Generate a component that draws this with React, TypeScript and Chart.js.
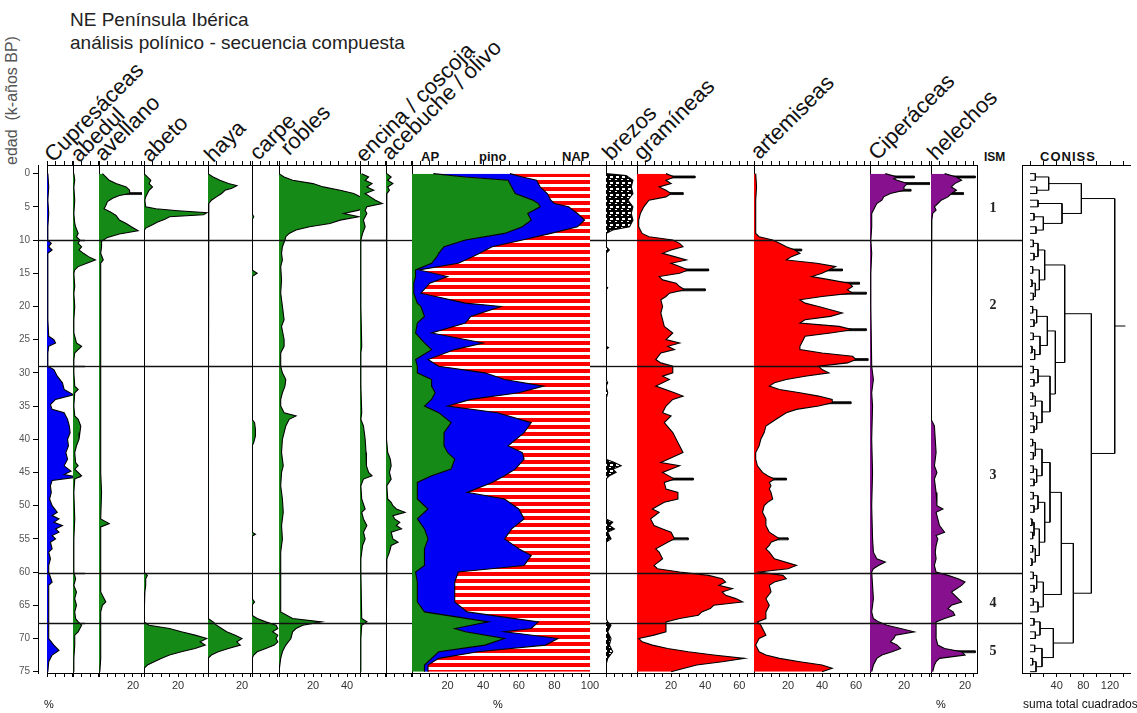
import React, { useEffect, useRef } from 'react';
import { Chart, registerables } from 'chart.js';

Chart.register(...registerables);
Chart.defaults.font.family = '"Liberation Sans", Arial, sans-serif';

// ---------------- DATA ----------------
const ZONE_AGES = [10, 29, 60.2, 67.7];
const ISM_ZONES = ['1', '2', '3', '4', '5'];
const ISM_ZONE_AGES = [5.2, 19.8, 45.4, 64.7, 71.9];
const AGE_MIN = -1.3;
const AGE_MAX = 75.2;

const CUPRESACEAS_AGE = [0, 2, 4, 6, 8, 10, 10.5, 11, 11.5, 12, 14, 18, 22, 24.5, 25, 25.5, 26, 27, 29, 29.5, 30.5, 31.5, 32.5, 33.3, 34, 34.8, 35.5, 36, 37, 38, 39, 40, 41, 42, 43, 44, 44.8, 45.3, 45.7, 46.2, 47, 48, 49, 50, 51, 51.5, 52, 52.5, 53, 53.5, 54, 54.5, 55, 55.5, 56.5, 57, 58, 59, 60, 61.5, 62, 63, 66, 68, 70, 71, 71.8, 72.5, 73.5, 75];
const CUPRESACEAS_PCT = [0.5, 1, 0.5, 1, 0.5, 0.5, 2.5, 1, 3, 0.5, 0.5, 0.5, 0.5, 1, 4, 5, 1, 0.5, 0.5, 4, 6, 9, 10, 15.5, 5, 2, 3, 10, 12, 13, 13.5, 12, 12.5, 11, 12, 10, 14, 10, 18, 3, 2, 2.5, 1.5, 3, 6, 3, 7, 4, 9, 5, 7, 3, 5, 2, 3, 1, 2, 1, 1, 3, 1, 1, 1, 1, 1, 4, 7, 3, 1, 0.5];

const ABEDUL_AGE = [0, 1, 2, 4, 6, 7.5, 8, 9, 9.5, 10, 10.5, 11, 11.5, 12, 12.5, 13, 13.5, 14, 14.5, 15, 17, 18, 20, 22, 24, 25.5, 26, 26.5, 27, 28, 30, 32, 32.5, 33, 35, 36.5, 37, 38, 39, 40, 41, 42, 43.5, 44, 44.5, 45.5, 46, 48, 52, 55, 60, 61, 62, 63, 64, 65, 66, 67, 67.5, 68, 68.5, 69, 69.5, 71, 73, 75];
const ABEDUL_PCT = [0.5, 1, 0.5, 1, 0.5, 1, 1.5, 3, 2, 4, 3, 5, 3.5, 6, 9, 13, 8, 3, 1, 0.5, 1, 0.5, 1, 0.5, 0.5, 2, 5, 3, 1, 0.5, 0.5, 1, 3, 1, 0.5, 1, 3, 4.5, 4, 3.5, 2, 1, 1.5, 3, 1, 5, 1, 0.5, 1, 0.5, 0.5, 1.5, 0.5, 2, 1, 2, 1, 1.5, 3, 5, 4, 3, 1, 1, 0.5, 0.5];

const AVELLANO_AGE = [0, 0.5, 1, 1.5, 2, 2.5, 3, 3.3, 3.7, 4.2, 4.8, 5.3, 5.8, 6.3, 7, 7.5, 8, 8.6, 9.1, 9.6, 10.2, 11, 12, 13, 13.5, 15, 20, 25, 30, 35, 40, 45, 48, 52, 52.7, 53.2, 55, 58, 60, 63, 64.5, 65, 66, 70, 73, 75];
const AVELLANO_PCT = [2, 4, 6, 10, 16, 18, 18, 12, 8, 5, 4, 3, 7, 10, 12, 16, 19, 23, 12, 5, 1.5, 1.5, 1, 2.5, 1, 1, 1, 1, 1, 1, 1, 1, 1.5, 1, 6, 1, 1, 1, 1, 1, 4, 2, 1, 1, 1, 0.5];
const AVELLANO_BLACK_AGE = [2.85, 2.85, 3.15, 3.15];
const AVELLANO_BLACK_PCT = [0, 25, 25, 0];

const ABETO_AGE = [0, 0.5, 1, 1.5, 2, 2.5, 3, 3.5, 4, 5, 5.3, 5.6, 5.9, 6.2, 6.5, 6.9, 7.3, 7.7, 8.2, 8.6, 60, 60.5, 61, 62, 63, 64, 67.5, 68, 68.5, 69, 69.5, 70, 70.5, 71, 71.5, 72, 72.5, 73, 73.5, 74, 74.5, 75];
const ABETO_PCT = [0, 2, 4, 3, 5, 3, 2, 1, 0.5, 1, 7, 20, 37, 35, 15, 12, 8, 5, 1, 0, 0, 2, 1, 1, 0.5, 0, 0, 3, 15, 22, 30, 37, 33, 36, 30, 22, 15, 10, 6, 2, 0, 0];

const HAYA_AGE = [0, 0.5, 1, 1.5, 1.8, 2.2, 2.5, 3, 3.5, 4, 4.5, 5, 67, 67.5, 68, 68.5, 69, 69.5, 70, 70.5, 71, 71.5, 72, 72.5, 73, 75];
const HAYA_PCT = [0, 3, 7, 12, 17, 14, 10, 8, 5, 2, 0.5, 0, 0, 3, 5, 8, 11, 16, 20, 17, 19, 12, 6, 2, 0, 0];

const CARPE_AGE = [0, 6, 6.5, 7, 14.5, 15, 15.5, 37, 37.5, 38.5, 39.5, 40.5, 41, 54, 54.3, 54.6, 64, 64.5, 65, 66.5, 67, 67.5, 68, 68.5, 69, 69.5, 70, 70.5, 71, 71.5, 72, 72.5, 73, 75];
const CARPE_PCT = [0, 0, 1, 0, 0, 3, 0, 0, 1.5, 2, 2, 1, 0, 0, 2, 0, 0, 1.5, 0, 0, 3, 8, 14, 15, 12, 15, 14, 15, 13, 8, 3, 1, 0, 0];

const ROBLES_AGE = [0, 0.5, 1, 1.5, 2, 2.5, 3, 3.5, 4, 4.5, 5, 5.5, 6, 6.5, 7, 7.5, 8, 8.5, 9, 9.5, 10, 11, 12, 13, 14, 16, 18, 20, 22, 23, 25, 26, 27, 29, 30, 31, 32, 33, 34, 35, 36, 36.5, 37, 38, 39, 40, 42, 44, 45, 47, 49, 51, 53, 55, 57, 60, 64, 66, 67, 67.5, 68, 68.5, 69, 70, 71, 72, 73, 74, 75];
const ROBLES_PCT = [0, 3, 8, 20, 26, 36, 44, 48, 54, 59, 50, 47, 38, 47, 36, 30, 18, 10, 6, 4, 3.5, 2, 1.5, 2, 1, 1.5, 1, 2, 3, 1.5, 3, 3, 1, 1, 2, 4, 3.5, 2, 1, 1, 3, 10, 6, 4, 3, 2, 1.5, 2.5, 1.5, 1, 2, 2.5, 1.5, 2, 1, 1, 1, 1, 8, 25, 14, 10, 8, 7, 4, 2, 1, 0.5, 0];

const ENCINA_AGE = [0, 0.5, 1, 1.5, 2, 2.5, 3, 3.5, 4, 4.5, 5, 5.5, 6, 7, 8, 9, 10, 12, 20, 26, 27, 32, 36, 37, 38, 40, 42, 43, 44, 45, 45.5, 46, 47, 49, 50.5, 51, 52, 53, 54, 55, 56, 57, 58, 60, 67, 67.5, 68, 70, 75];
const ENCINA_PCT = [1, 5, 3, 7, 4, 8, 3, 6, 9, 13, 4, 3, 4, 2, 3, 1.5, 0.5, 0.5, 0.5, 1, 0.5, 0.5, 1, 0.5, 2, 3, 3.5, 4, 3.5, 5, 7, 2, 0.5, 1, 3, 1, 2, 4, 2, 3, 1.5, 1, 0.5, 0.5, 1, 4, 1, 0.5, 0.5];

const ACEBUCHE_AGE = [0, 0.5, 1, 1.5, 2, 2.5, 3, 5, 8, 10, 38, 40, 42, 43, 44, 45, 46, 47, 49, 49.5, 50, 50.5, 51, 51.5, 52, 52.5, 53, 53.5, 54, 55, 55.5, 56, 57, 58, 60, 75];
const ACEBUCHE_PCT = [0.5, 3, 1, 4, 1, 2, 0.5, 0.5, 0.5, 0, 0, 0.5, 1, 2.5, 3, 2, 3, 0.5, 1, 3, 4, 6, 11, 4, 5, 8, 6, 9, 3, 4, 7, 3, 2, 0.5, 0, 0];

// AP diagram: non-pine trees (green) and total AP incl. pine (green + blue); NAP = rest to 100
const AP_AGE = [0, 0.5, 1, 2, 3, 4, 4.5, 5, 6, 7, 8, 9, 10, 11, 12, 12.5, 13.5, 14.5, 15.5, 16.5, 18, 19.5, 20, 21.5, 22.5, 24, 25.5, 26.5, 28, 29, 30, 31, 32, 33, 34, 35, 36, 37.5, 39, 41, 42, 43, 44.5, 45.5, 46.5, 48, 49, 50.5, 52, 53.5, 55, 56.5, 57.5, 59, 60, 61.5, 63, 64.5, 66, 67.5, 68.5, 69, 70, 71, 72, 73, 74, 75];
const AP_TREES = [12, 30, 54, 56, 58, 68, 71, 72, 65, 67, 62, 52, 30, 18, 15, 14, 11, 2, 2, 1, 1, 3, 5, 7, 3, 2, 7, 11, 2, 3, 3, 11, 11, 13, 11, 7, 15, 22, 18, 18, 20, 24, 22, 11, 3, 3, 3, 9, 3, 7, 9, 7, 7, 7, 2, 3, 3, 3, 7, 43, 24, 30, 52, 41, 15, 11, 7, 7];
const AP_TOTAL = [55, 62, 70, 72, 76, 78, 80, 88, 93, 97, 93, 78, 62, 45, 38, 34, 26, 4, 20, 10, 5, 30, 50, 33, 30, 11, 40, 24, 9, 15, 41, 52, 74, 60, 33, 20, 48, 67, 63, 54, 62, 63, 58, 52, 45, 31, 52, 60, 63, 56, 52, 60, 67, 63, 26, 24, 24, 24, 31, 71, 67, 52, 82, 75, 37, 15, 9, 9];

const BREZOS_AGE = [0, 0.3, 1, 2, 3, 4, 5, 6, 7, 8, 8.5, 9, 11, 11.5, 12, 17, 17.2, 17.5, 26, 26.2, 26.5, 31, 31.5, 32, 33, 34, 43, 43.5, 44, 44.5, 45, 45.5, 46, 52, 52.5, 53, 53.5, 54, 55, 55.5, 67, 67.5, 68, 69, 70, 71, 72, 73, 74, 75];
const BREZOS_PCT = [0, 12, 16, 15, 16, 13, 16, 15, 16, 14, 4, 0, 0, 2, 0, 0, 1, 0, 0, 1.5, 0, 0, 1, 0, 1, 0, 0, 5, 9, 4, 6, 2, 0, 0, 4, 2, 5, 1, 3, 0, 0, 1, 3, 1, 3, 2, 4, 1, 0, 0];

const GRAMINEAS_AGE = [0, 0.5, 1, 1.5, 2, 2.5, 3, 3.5, 4, 5, 6, 7, 8, 9, 9.5, 10, 10.5, 11, 11.5, 12, 12.5, 13, 13.5, 14, 14.5, 15, 15.5, 16, 16.5, 17, 17.5, 18, 18.5, 19, 20, 21, 22, 23, 24, 25, 25.5, 26, 26.5, 27, 28, 28.5, 29, 30, 30.5, 31, 32, 33, 33.5, 34, 35, 36, 36.5, 37.5, 39, 42, 43.5, 44, 45, 46, 46.5, 47.5, 48, 49, 49.5, 50.5, 51, 52, 53, 53.5, 54, 55, 55.5, 56.5, 57, 58, 59, 59.5, 60, 60.5, 61, 61.5, 62, 62.5, 63, 63.5, 64, 64.5, 65, 65.5, 66, 66.5, 67, 67.5, 68, 69, 69.5, 70, 70.5, 71, 71.5, 72, 72.5, 73, 73.5, 74, 75];
const GRAMINEAS_PCT = [17, 22, 17, 20, 13, 17, 20, 17, 7, 4, 2, 1, 1, 3, 7, 21, 25, 27, 20, 15, 22, 29, 20, 25, 30, 25, 13, 15, 23, 25, 28, 19, 17, 14, 15, 14, 15, 16, 21, 17, 25, 18, 22, 14, 11, 14, 21, 21, 15, 19, 11, 22, 27, 21, 17, 15, 20, 16, 21, 27, 14, 25, 15, 22, 16, 17, 24, 24, 16, 9, 13, 8, 10, 15, 20, 22, 18, 11, 13, 15, 10, 12, 25, 42, 50, 52, 48, 56, 50, 52, 58, 62, 45, 43, 38, 36, 25, 17, 17, 17, 10, 1, 3, 9, 18, 30, 45, 63, 50, 35, 20];
const GRAMINEAS_BLACK_AGE = [0.35, 0.35, 0.65, 0.65, 2.85, 2.85, 3.15, 3.15, 14.35, 14.35, 14.65, 14.65, 17.35, 17.35, 17.65, 17.65, 45.85, 45.85, 46.15, 46.15, 54.85, 54.85, 55.15, 55.15];
const GRAMINEAS_BLACK_PCT = [0, 34, 34, 0, 0, 27, 27, 0, 0, 42, 42, 0, 0, 40, 40, 0, 0, 33, 33, 0, 0, 30, 30, 0];

const ARTEMISEAS_AGE = [0, 2, 4, 6, 8, 9, 9.5, 10, 10.5, 11, 11.5, 12, 12.5, 13, 13.5, 14, 14.5, 15, 15.5, 16, 16.5, 17, 17.5, 18, 18.5, 19, 19.5, 20, 21, 21.5, 22, 22.5, 23, 23.5, 24, 24.5, 25, 26, 26.5, 27, 27.5, 28, 28.5, 29, 29.5, 30, 30.5, 31, 31.5, 32, 32.5, 33, 33.5, 34, 34.5, 35, 35.5, 36, 37, 38, 39, 40, 41, 42, 43, 44, 45, 45.5, 46, 46.5, 47, 47.5, 48, 49, 49.5, 50, 51, 52, 53, 54, 55, 55.5, 56, 56.5, 57, 58, 59, 59.5, 60, 60.5, 61, 61.5, 62, 63, 64, 65, 66, 67, 67.5, 68, 69, 69.5, 70, 71, 72, 72.5, 73, 73.5, 74, 74.5, 75];
const ARTEMISEAS_PCT = [1, 1.5, 1, 1, 1, 1, 3, 11, 15, 19, 24, 27, 22, 19, 37, 48, 44, 40, 34, 45, 56, 58, 55, 58, 40, 27, 30, 38, 52, 45, 30, 27, 50, 58, 45, 30, 29, 27, 27, 40, 58, 60, 55, 38, 40, 44, 30, 19, 12, 9, 15, 27, 38, 46, 46, 38, 25, 19, 13, 7, 6, 4, 3, 1, 1, 2, 5, 8, 12, 9, 10, 9, 10, 11, 8, 6, 5, 7, 7, 9, 15, 10, 9, 7, 9, 12, 25, 20, 3, 17, 19, 12, 9, 10, 7, 9, 7, 7, 2, 4, 6, 7, 3, 1, 3, 7, 15, 27, 40, 46, 40];
const ARTEMISEAS_BLACK_AGE = [11.35, 11.35, 11.65, 11.65, 14.35, 14.35, 14.65, 14.65, 16.35, 16.35, 16.65, 16.65, 17.85, 17.85, 18.15, 18.15, 23.35, 23.35, 23.65, 23.65, 27.85, 27.85, 28.15, 28.15, 34.35, 34.35, 34.65, 34.65, 45.85, 45.85, 46.15, 46.15, 54.85, 54.85, 55.15, 55.15];
const ARTEMISEAS_BLACK_PCT = [0, 28, 28, 0, 0, 52, 52, 0, 0, 62, 62, 0, 0, 66, 66, 0, 0, 66, 66, 0, 0, 67, 67, 0, 0, 57, 57, 0, 0, 19, 19, 0, 0, 20, 20, 0];

const CIPERACEAS_AGE = [0, 0.5, 0.8, 1, 1.5, 2, 2.5, 3, 3.5, 4, 4.5, 5, 5.5, 6, 8, 10, 12, 15, 20, 29, 31, 33, 35, 40, 45, 50, 55, 57, 58, 58.5, 59, 59.5, 60, 62, 64, 66, 67, 67.5, 68, 68.5, 69, 69.5, 70, 70.5, 71, 71.5, 72, 72.5, 73, 74, 75];
const CIPERACEAS_PCT = [9, 16, 14, 16, 22, 20, 20, 12, 8, 7, 4, 3, 2, 1, 1, 0.5, 1, 0.5, 0.5, 1, 2, 1, 1.5, 1, 1.5, 1, 1.5, 2, 4, 9, 5, 2, 1, 1.5, 2, 1, 2, 5, 10, 18, 26, 15, 14, 12, 16, 18, 13, 7, 4, 2, 1];
const CIPERACEAS_BLACK_AGE = [0.35, 0.35, 0.65, 0.65, 1.35, 1.35, 1.65, 1.65, 2.35, 2.35, 2.65, 2.65];
const CIPERACEAS_BLACK_PCT = [0, 26, 26, 0, 0, 35, 35, 0, 0, 24, 24, 0];

const HELECHOS_AGE = [0, 0.5, 1, 1.5, 2, 2.5, 3, 3.5, 4, 4.5, 5, 5.5, 6, 7, 8, 37, 38, 40, 42, 44, 45, 46, 48, 50, 50.5, 51, 52, 53, 54, 54.5, 55, 56, 57, 58, 59, 60, 60.5, 61, 61.5, 62, 62.5, 63, 63.5, 64, 64.5, 65, 65.5, 66, 66.5, 67, 67.5, 68, 69, 70, 71, 71.5, 72, 72.5, 73, 73.5, 74, 75];
const HELECHOS_PCT = [8, 15, 18, 14, 12, 15, 12, 10, 6, 4, 2, 3, 1, 0.5, 0, 0, 2, 2.5, 3, 2, 3.5, 2, 3, 3.5, 7, 3, 4, 5, 8, 3, 4, 3, 2.5, 3, 2, 3, 10, 16, 20, 18, 15, 12, 14, 16, 18, 12, 10, 13, 14, 8, 3, 3, 3, 3, 4, 8, 18, 20, 5, 3, 2, 1];
const HELECHOS_BLACK_AGE = [0.35, 0.35, 0.65, 0.65, 2.85, 2.85, 3.15, 3.15, 71.85, 71.85, 72.15, 72.15];
const HELECHOS_BLACK_PCT = [0, 26, 26, 0, 0, 19, 19, 0, 0, 26, 26, 0];

// CONISS dendrogram: [height, left, right], leaves are sample ages (k-años BP)
const CONISS_TREE: any = [127,
  [77, [28, [8, 0, 1], [10, 2, 3]], [48, [12, 4, 5], [20, [6, 6, 7], [9, 8, 9]]]],
  [92,
    [52,
      [22, [12, [5, 10, 11], [6, 12, 13]], [14, [4, 14, 15], [8, [3, 16, 17], [5, 18, 19]]]],
      [38,
        [26, [10, [4, 20, 21], [6, 22, 23]], [15, [5, 24, 25], [7, [3, 26, 27], 28]]],
        [30, [12, [5, 29, 30], [6, 31, 32]], [18, [8, [4, 33, 34], 35], [10, [5, 36, 37], [6, 38, 39]]]]]],
    [65,
      [47,
        [30,
          [18, [8, [4, 40, 41], [5, 42, 43]], [10, [5, 44, 45], [6, 46, 47]]],
          [22, [12, [5, 48, 49], [6, 50, 51]], [14, [6, [3, 52, 53], [4, 54, 55]], [8, [4, 56, 57], [3, 58, 59]]]]],
        [20, [10, [5, 60, 61], [6, 62, 63]], [12, [5, 64, 65], 66]]],
      [35, [15, [6, 67, 68], [8, 69, 70]], [18, [7, 71, 72], [9, [4, 73, 74], 75]]]]]];
const CONISS_ROOT_STUB = 143;

// ---------------- STYLE / LAYOUT ----------------
const GREEN = '#168a16';
const BLUE = '#0000f5';
const RED = '#ff0000';
const PURPLE = '#86108e';
const BLACK = '#000000';
const CANVAS_TOP = 145;
const CANVAS_H = 563;
const PAD_TOP = 20;
const PAD_BOTTOM = 35;
const PAD_SIDE = 16;
const AGE_AXIS_W = 34;

function drawZones(chart: any, opts: any) {
  const { ctx, chartArea: a, scales } = chart;
  const y = scales.y;
  ctx.save();
  ctx.strokeStyle = '#111';
  ctx.lineWidth = 1.3;
  for (const age of opts.ages) {
    const py = Math.round(y.getPixelForValue(age)) + 0.5;
    ctx.beginPath();
    ctx.moveTo(a.left, py);
    ctx.lineTo(a.right, py);
    ctx.stroke();
  }
  ctx.restore();
}

const zonePlugin = {
  id: 'zones',
  beforeDatasetsDraw(chart: any, _a: any, opts: any) {
    if (opts && opts.ages && opts.under) drawZones(chart, opts);
  },
  afterDatasetsDraw(chart: any, _a: any, opts: any) {
    if (opts && opts.ages && !opts.under) drawZones(chart, opts);
  },
};

const ismPlugin = {
  id: 'ismLabels',
  afterDatasetsDraw(chart: any, _a: any, opts: any) {
    if (!opts || !opts.labels) return;
    const { ctx, chartArea: a, scales } = chart;
    ctx.save();
    ctx.font = 'bold 14px "Liberation Serif", serif';
    ctx.fillStyle = '#222';
    ctx.textAlign = 'center';
    ctx.textBaseline = 'middle';
    opts.labels.forEach((t: string, i: number) => {
      ctx.fillText(t, a.left + 16, scales.y.getPixelForValue(opts.ages[i]));
    });
    ctx.restore();
  },
};

function areaDs(age: number[], pct: number[], bg: any, extra: any = {}) {
  return {
    data: age.map((a, i) => ({ x: pct[i], y: a })),
    backgroundColor: bg,
    borderColor: '#000',
    borderWidth: 1.1,
    fill: 'origin',
    pointRadius: 0,
    tension: 0,
    ...extra,
  };
}

function layoutTree(t: any, segs: any[]): { y: number; h: number } {
  if (typeof t === 'number') return { y: t, h: 0 };
  const [h, l, r] = t;
  const a = layoutTree(l, segs);
  const b = layoutTree(r, segs);
  segs.push([{ x: a.h, y: a.y }, { x: h, y: a.y }, { x: h, y: b.y }, { x: b.h, y: b.y }]);
  return { y: (a.y + b.y) / 2, h };
}

// layers: first = coloured curve (drawn on top), following = black peaks drawn beneath
const PANELS: any[] = [
  { id: 'edad', kind: 'age', x0: 38, x1: 47 },
  { id: 'cupresaceas', x0: 47, x1: 72.7, over: 12, layers: [[CUPRESACEAS_AGE, CUPRESACEAS_PCT, BLUE]] },
  { id: 'abedul', x0: 72.7, x1: 99.3, layers: [[ABEDUL_AGE, ABEDUL_PCT, GREEN]] },
  { id: 'avellano', x0: 99.3, x1: 144.3, labels: [20], layers: [[AVELLANO_AGE, AVELLANO_PCT, GREEN], [AVELLANO_BLACK_AGE, AVELLANO_BLACK_PCT, BLACK]] },
  { id: 'abeto', x0: 144.3, x1: 208.3, labels: [20], layers: [[ABETO_AGE, ABETO_PCT, GREEN]] },
  { id: 'haya', x0: 208.3, x1: 252.3, labels: [20], layers: [[HAYA_AGE, HAYA_PCT, GREEN]] },
  { id: 'carpe', x0: 252.3, x1: 279, layers: [[CARPE_AGE, CARPE_PCT, GREEN]] },
  { id: 'robles', x0: 279, x1: 360, over: 26, labels: [20, 40], layers: [[ROBLES_AGE, ROBLES_PCT, GREEN]] },
  { id: 'encina', x0: 360, x1: 385.7, layers: [[ENCINA_AGE, ENCINA_PCT, GREEN]] },
  { id: 'acebuche', x0: 385.7, x1: 412.3, layers: [[ACEBUCHE_AGE, ACEBUCHE_PCT, GREEN]] },
  { id: 'ap', kind: 'ap', x0: 412.3, x1: 606, ppu: 1.777, limit: 100, labels: [20, 40, 60, 80, 100], zonesUnder: true },
  { id: 'brezos', x0: 606, x1: 637.3, layers: [[BREZOS_AGE, BREZOS_PCT, 'dots']] },
  { id: 'gramineas', x0: 637.3, x1: 754, labels: [20, 40, 60], layers: [[GRAMINEAS_AGE, GRAMINEAS_PCT, RED], [GRAMINEAS_BLACK_AGE, GRAMINEAS_BLACK_PCT, BLACK]] },
  { id: 'artemiseas', x0: 754, x1: 870, labels: [20, 40, 60], layers: [[ARTEMISEAS_AGE, ARTEMISEAS_PCT, RED], [ARTEMISEAS_BLACK_AGE, ARTEMISEAS_BLACK_PCT, BLACK]] },
  { id: 'ciperaceas', x0: 870, x1: 931, labels: [20], layers: [[CIPERACEAS_AGE, CIPERACEAS_PCT, PURPLE], [CIPERACEAS_BLACK_AGE, CIPERACEAS_BLACK_PCT, BLACK]] },
  { id: 'helechos', x0: 931, x1: 977, labels: [20], layers: [[HELECHOS_AGE, HELECHOS_PCT, PURPLE], [HELECHOS_BLACK_AGE, HELECHOS_BLACK_PCT, BLACK]] },
  { id: 'ism', kind: 'ism', x0: 977, x1: 1022 },
  { id: 'coniss', kind: 'coniss', x0: 1022, x1: 1130, xmin: -12, ppu: 0.667, step: 20, limit: 150, labels: [40, 80, 120] },
];

function makePatterns(ctx: CanvasRenderingContext2D) {
  const s = document.createElement('canvas');
  s.width = 8; s.height = 7;
  const g = s.getContext('2d')!;
  g.fillStyle = '#ffffff'; g.fillRect(0, 0, 8, 7);
  g.fillStyle = '#ff0000'; g.fillRect(0, 0, 8, 4);
  const stripes = ctx.createPattern(s, 'repeat');
  const d = document.createElement('canvas');
  d.width = 6; d.height = 6;
  const h = d.getContext('2d')!;
  h.fillStyle = '#000'; h.fillRect(0, 0, 6, 6);
  h.fillStyle = '#fff'; h.fillRect(2, 1, 3, 2); h.fillRect(1, 4, 2, 1);
  const dots = ctx.createPattern(d, 'repeat');
  return { stripes, dots };
}

function leftPad(spec: any) {
  return spec.kind === 'age' ? AGE_AXIS_W : PAD_SIDE;
}

function buildConfig(spec: any, ctx: CanvasRenderingContext2D) {
  const ppu = spec.ppu ?? 1.7;
  const xmin = spec.xmin ?? 0;
  const chartW = spec.x1 - spec.x0 + (spec.over ?? 0);
  const xmax = xmin + chartW / ppu;
  const limit = spec.limit ?? ((spec.x1 - spec.x0) / ppu + 0.01);
  const labels: number[] = spec.labels ?? [];
  const isAge = spec.kind === 'age';
  const showX = !isAge && spec.kind !== 'ism';
  const pats = makePatterns(ctx);

  // x axes always reserve PAD_TOP / PAD_BOTTOM (even when hidden) so every chart area is identical
  const xAxis = (pos: string) => ({
    type: 'linear',
    position: pos,
    min: xmin,
    max: xmax,
    display: showX,
    afterFit: (s: any) => {
      s.height = pos === 'bottom' ? PAD_BOTTOM : PAD_TOP;
      s.paddingLeft = 0; s.paddingRight = 0; s.paddingTop = 0; s.paddingBottom = 0;
    },
    afterBuildTicks: (s: any) => { s.ticks = s.ticks.filter((t: any) => t.value >= 0 && t.value <= limit); },
    grid: { display: true, drawOnChartArea: false, drawTicks: true, tickLength: 4, color: '#000', lineWidth: 1 },
    border: { display: true, color: '#000', width: 1 },
    ticks: {
      display: pos === 'bottom',
      stepSize: spec.step ?? 5,
      includeBounds: false,
      autoSkip: false,
      maxRotation: 0,
      padding: 2,
      color: '#333',
      font: { size: 11 },
      callback: (v: any) => (labels.includes(v) ? String(v) : ''),
    },
  });

  const yAxis = {
    type: 'linear',
    reverse: true,
    min: AGE_MIN,
    max: AGE_MAX,
    display: true,
    afterFit: (s: any) => {
      s.width = isAge ? AGE_AXIS_W : 0;
      s.paddingTop = 0; s.paddingBottom = 0; s.paddingLeft = 0; s.paddingRight = 0;
    },
    grid: { display: isAge, drawOnChartArea: false, drawTicks: true, tickLength: 5, color: '#000' },
    border: { display: true, color: '#000', width: 1 },
    ticks: { display: isAge, stepSize: 5, includeBounds: false, autoSkip: false, color: '#555', font: { size: 10 }, padding: 3 },
  };

  let datasets: any[] = [];
  let type = 'line';
  if (spec.layers) {
    datasets = spec.layers.map((l: any) => areaDs(l[0], l[1], l[2] === 'dots' ? pats.dots : l[2], l[2] === BLACK ? { borderWidth: 0.8 } : {}));
  } else if (spec.kind === 'ap') {
    datasets = [
      areaDs(AP_AGE, AP_TREES, GREEN),
      areaDs(AP_AGE, AP_TOTAL, BLUE, { fill: '-1' }),
      areaDs(AP_AGE, AP_TOTAL, pats.stripes, { fill: { value: 100 }, borderWidth: 0 }),
    ];
  } else if (spec.kind === 'coniss') {
    type = 'scatter';
    const segs: any[] = [];
    const root = layoutTree(CONISS_TREE, segs);
    segs.push([{ x: root.h, y: root.y }, { x: CONISS_ROOT_STUB, y: root.y }]);
    datasets = segs.map((s) => ({ data: s, showLine: true, borderColor: '#000', borderWidth: 1, pointRadius: 0, fill: false }));
  }

  const plugins: any[] = [zonePlugin];
  if (spec.kind === 'ism') plugins.push(ismPlugin);

  return {
    type,
    data: { datasets },
    plugins,
    options: {
      animation: false,
      responsive: false,
      indexAxis: type === 'line' ? 'y' : 'x',
      layout: {
        autoPadding: false,
        padding: { left: isAge ? 0 : PAD_SIDE, right: PAD_SIDE, top: 0, bottom: 0 },
      },
      events: [],
      plugins: {
        legend: { display: false },
        tooltip: { enabled: false },
        zones: spec.kind === 'coniss' ? {} : { ages: ZONE_AGES, under: !!spec.zonesUnder },
        ismLabels: spec.kind === 'ism' ? { labels: ISM_ZONES, ages: ISM_ZONE_AGES } : {},
      },
      scales: { x: xAxis('bottom'), x2: xAxis('top'), y: yAxis },
    },
  } as any;
}

function PanelChart({ spec }: { spec: any }) {
  const ref = useRef<HTMLCanvasElement>(null);
  const lp = leftPad(spec);
  const w = Math.round(spec.x1 - spec.x0 + (spec.over ?? 0) + lp + PAD_SIDE);
  useEffect(() => {
    const cv = ref.current!;
    const chart = new Chart(cv, buildConfig(spec, cv.getContext('2d')!));
    return () => chart.destroy();
  }, []);
  return (
    <div style={{ position: 'absolute', left: spec.x0 - lp, top: CANVAS_TOP, width: w, height: CANVAS_H }}>
      <canvas ref={ref} width={w} height={CANVAS_H} style={{ width: w, height: CANVAS_H, display: 'block' }} />
    </div>
  );
}

const HEADERS: [string, number, number][] = [
  ['Cupresáceas', 56, 166], ['abedul', 82, 166], ['avellano', 106, 165], ['abeto', 153, 166],
  ['haya', 216, 166], ['carpe', 261, 164], ['robles', 292, 159], ['encina / coscoja', 367, 166],
  ['acebuche / olivo', 393, 164], ['brezos', 614, 164], ['gramíneas', 645, 164], ['artemiseas', 762, 163],
  ['Ciperáceas', 880, 164], ['helechos', 939, 164],
];

export default function App() {
  const font = '"Liberation Sans", Arial, sans-serif';
  return (
    <div style={{ position: 'absolute', left: 0, top: 0, width: 1137, height: 713, background: '#fff', overflow: 'hidden', fontFamily: font, color: '#111' }}>
      <div style={{ position: 'absolute', left: 70, top: 8, fontSize: 19, lineHeight: '23px', color: '#222' }}>
        NE Península Ibérica<br />análisis polínico - secuencia compuesta
      </div>
      <div style={{ position: 'absolute', left: 4, top: 165, fontSize: 16, lineHeight: '16px', color: '#555', whiteSpace: 'nowrap', transform: 'rotate(-90deg)', transformOrigin: '0 0' }}>
        edad&nbsp; (k-años BP)
      </div>
      {HEADERS.map(([t, x, y]) => (
        <div key={t} style={{ position: 'absolute', left: x, top: y - 22, fontSize: 22, lineHeight: '22px', whiteSpace: 'nowrap', transform: 'rotate(-45deg)', transformOrigin: '0 100%' }}>{t}</div>
      ))}
      <div style={{ position: 'absolute', left: 421, top: 149, fontSize: 13, fontWeight: 'bold' }}>AP</div>
      <div style={{ position: 'absolute', left: 479, top: 149, fontSize: 13, fontWeight: 'bold' }}>pino</div>
      <div style={{ position: 'absolute', left: 562, top: 149, fontSize: 13, fontWeight: 'bold' }}>NAP</div>
      <div style={{ position: 'absolute', left: 984, top: 150, fontSize: 12, fontWeight: 'bold' }}>ISM</div>
      <div style={{ position: 'absolute', left: 1040, top: 149, fontSize: 13, fontWeight: 'bold', letterSpacing: 1 }}>CONISS</div>
      {PANELS.map((p) => <PanelChart key={p.id} spec={p} />)}
      <div style={{ position: 'absolute', left: 44, top: 698, fontSize: 11 }}>%</div>
      <div style={{ position: 'absolute', left: 493, top: 698, fontSize: 11 }}>%</div>
      <div style={{ position: 'absolute', left: 936, top: 698, fontSize: 11 }}>%</div>
      <div style={{ position: 'absolute', left: 1023, top: 697, fontSize: 12, whiteSpace: 'nowrap' }}>suma total cuadrados</div>
    </div>
  );
}
